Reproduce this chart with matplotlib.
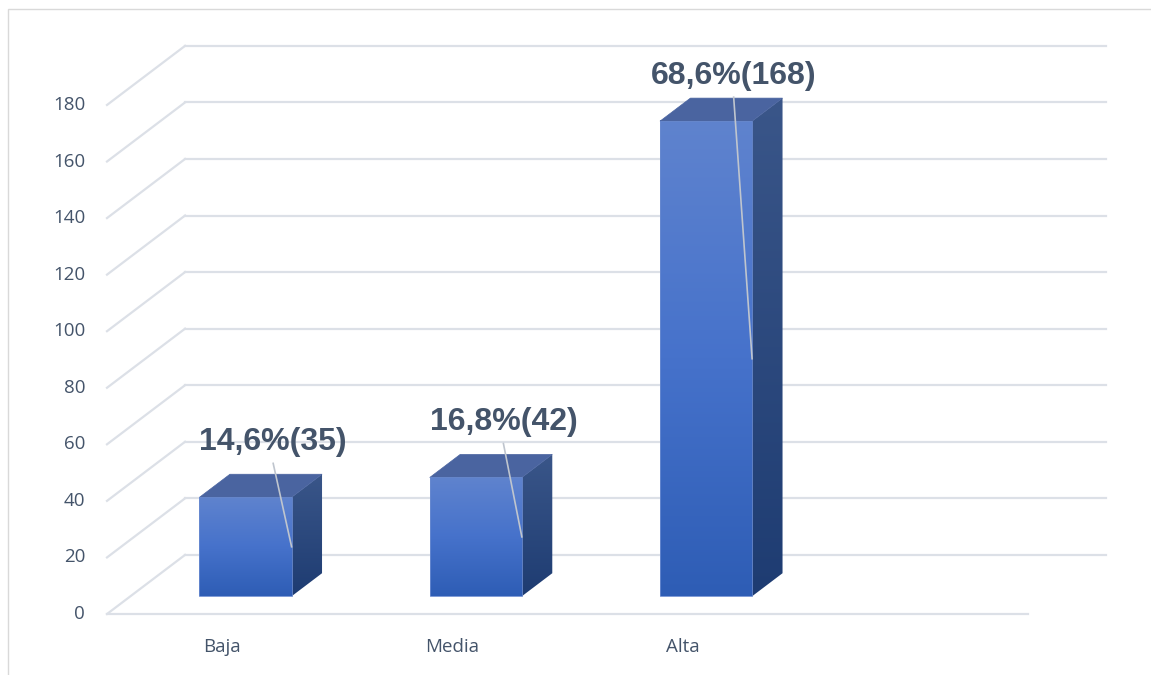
import matplotlib.pyplot as plt
import numpy as np
from matplotlib.colors import LinearSegmentedColormap
from matplotlib.patches import Polygon, Rectangle

categories = ["Baja", "Media", "Alta"]
counts = [35, 42, 168]
labels = ["14,6%(35)", "16,8%(42)", "68,6%(168)"]
yticks = list(range(0, 181, 20))
n_slots = 4

# pseudo-3D projection (offset of the back wall, in data units)
DX, DY = 0.339, 20.9
D0, D1 = 0.30, 0.69      # depth span of the bars
HALF = 0.20              # half bar width in slot units

TEXT = "#44546A"
GRID = "#DCE0E7"

fig = plt.figure(figsize=(11.51, 6.75), dpi=100)
ax = fig.add_axes([0, 0, 1, 1])
px_x, px_y = 230.25, 2.828
ax.set_xlim(-107 / px_x, (1151 - 107) / px_x)
ax.set_ylim(-(675 - 614) / px_y, 614 / px_y)
ax.axis("off")

# outer chart frame
fig.patches.append(Rectangle((8 / 1151, -0.01), 1.2, (675 - 9) / 675 + 0.01,
                             transform=fig.transFigure, fill=False,
                             edgecolor="#D9D9D9", lw=1.0))

# walls / gridlines
for v in yticks:
    ax.plot([0, DX], [v, v + DY], color=GRID, lw=1.6, zorder=1)
    ax.plot([DX, n_slots + DX], [v + DY, v + DY], color=GRID, lw=1.6, zorder=1)
    ax.text(-0.095, v, str(v), ha="right", va="center", fontsize=13.5,
            color=TEXT, family="Open Sans")
ax.plot([0, n_slots], [0, 0], color=GRID, lw=1.6, zorder=1)

front_cm = LinearSegmentedColormap.from_list("front", ["#2E5DB5", "#4672CB", "#5F83CE"])
side_cm = LinearSegmentedColormap.from_list("side", ["#1E3C72", "#3A5689"])
grad = np.linspace(0, 1, 256).reshape(-1, 1)

for i, (cat, val, lab) in enumerate(zip(categories, counts, labels)):
    xc = i + 0.5
    x0 = xc - HALF + D0 * DX
    x1 = xc + HALF + D0 * DX
    y0 = D0 * DY
    y1 = val + D0 * DY
    ddx, ddy = (D1 - D0) * DX, (D1 - D0) * DY

    # front face
    ax.imshow(grad, cmap=front_cm, origin="lower", aspect="auto",
              extent=[x0, x1, y0, y1], zorder=3)
    ax.add_patch(Rectangle((x0, y0), x1 - x0, y1 - y0, fill=False,
                           edgecolor="#6A8BD0", lw=0.6, zorder=4))
    # right side face
    side = Polygon([(x1, y0), (x1 + ddx, y0 + ddy), (x1 + ddx, y1 + ddy), (x1, y1)],
                   closed=True, facecolor="none", edgecolor="none", zorder=3)
    ax.add_patch(side)
    im = ax.imshow(grad, cmap=side_cm, origin="lower", aspect="auto",
                   extent=[x1, x1 + ddx, y0, y1 + ddy], zorder=3)
    im.set_clip_path(side)
    # top face
    ax.add_patch(Polygon([(x0, y1), (x0 + ddx, y1 + ddy), (x1 + ddx, y1 + ddy), (x1, y1)],
                         closed=True, facecolor="#4A64A0", edgecolor="#4A64A0",
                         lw=0.5, zorder=3))

    # category label
    ax.text(xc, -11.5, cat, ha="center", va="center", fontsize=13.5,
            color=TEXT, family="Open Sans")

    # data label with leader line
    lx = x1 - 0.08
    ly = y1 + 19.5 if val < 100 else y1 + 16
    ax.text(lx, ly, lab, ha="center", va="center", fontsize=23,
            fontweight="bold", color=TEXT, family="Liberation Sans", zorder=6)
    ax.plot([lx, x1], [ly - 7.5, (y0 + y1) / 2], color="#BFC5CE", lw=1.2, zorder=5)

fig.savefig("out.png", dpi=100)
